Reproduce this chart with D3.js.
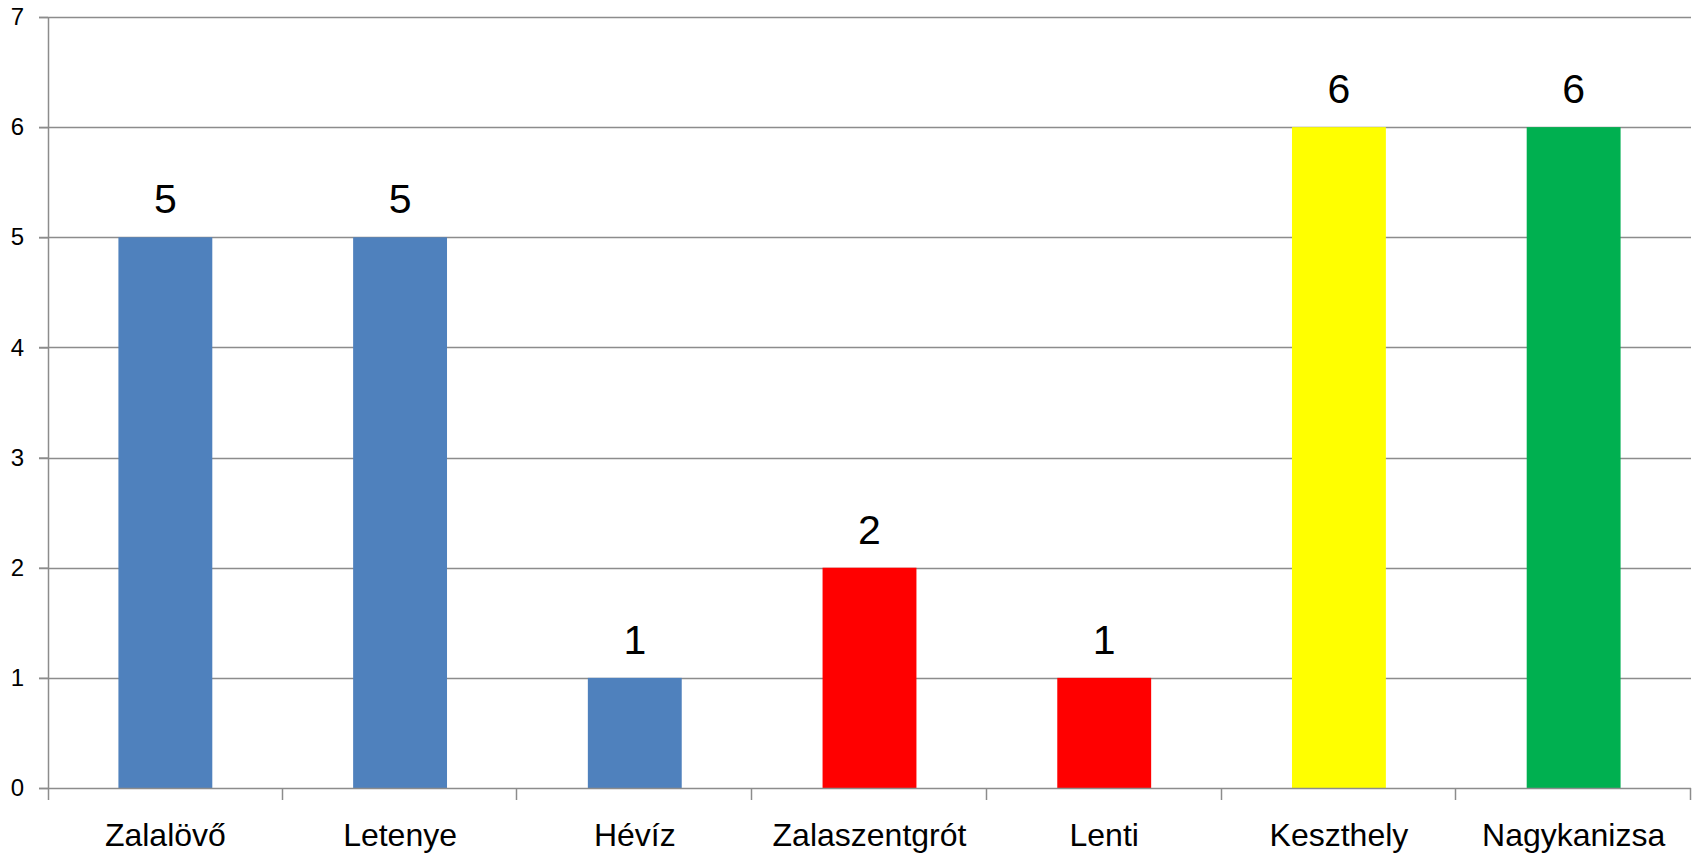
<!DOCTYPE html>
<html><head><meta charset="utf-8">
<script src="https://cdn.jsdelivr.net/npm/d3@7"></script>
<style>body{margin:0;background:#fff}svg{display:block}text{font-family:"Liberation Sans",Arial,sans-serif}</style>
</head><body>
<svg id="c" width="1696" height="855"></svg>
<script>
const categories = ["Zalalövő","Letenye","Hévíz","Zalaszentgrót","Lenti","Keszthely","Nagykanizsa"];
const values = [5,5,1,2,1,6,6];
const colors = ["#4F81BD","#4F81BD","#4F81BD","#FF0000","#FF0000","#FFFF00","#00B050"];
const yTicks = [0,1,2,3,4,5,6,7];

const W=1696,H=855,m={l:48,r:5,t:17,b:67};
const svg=d3.select("#c");
const x=d3.scaleBand().domain(categories).range([m.l,W-m.r]).paddingInner(0.6).paddingOuter(0.3);
const xb=d3.scaleBand().domain(categories).range([m.l,W-m.r]);
const y=d3.scaleLinear().domain([0,7]).range([H-m.b,m.t]);
const grid="#8c8c8c";

// gridlines
svg.append("g").selectAll("line").data(yTicks.filter(d=>d>0)).join("line")
 .attr("x1",m.l-9).attr("x2",W-m.r).attr("y1",d=>Math.round(y(d))+0.5).attr("y2",d=>Math.round(y(d))+0.5)
 .attr("stroke",grid).attr("stroke-width",1.5);

// bars
svg.append("g").selectAll("rect").data(values).join("rect")
 .attr("x",(d,i)=>x(categories[i])).attr("width",x.bandwidth())
 .attr("y",d=>y(d)).attr("height",d=>y(0)-y(d)).attr("fill",(d,i)=>colors[i]);

// y axis
const ya=svg.append("g").attr("transform",`translate(${m.l},0)`)
 .call(d3.axisLeft(y).tickValues(yTicks).tickSize(9).tickPadding(15).tickFormat(d3.format("d")));
ya.select(".domain").remove();
ya.selectAll(".tick line").attr("stroke",grid).attr("stroke-width",1.5);
ya.selectAll(".tick text").attr("font-size",24).attr("fill","#000").attr("font-family","Liberation Sans, Arial, sans-serif");
svg.append("line").attr("x1",m.l+0.5).attr("x2",m.l+0.5).attr("y1",m.t).attr("y2",H-m.b+12).attr("stroke",grid).attr("stroke-width",1.5);

// x axis line and ticks at boundaries
svg.append("line").attr("x1",m.l-9).attr("x2",W-m.r).attr("y1",y(0)+0.5).attr("y2",y(0)+0.5).attr("stroke",grid).attr("stroke-width",1.5);
const bounds=categories.map(c=>xb(c)+xb.bandwidth());
svg.append("g").selectAll("line").data(bounds).join("line")
 .attr("x1",d=>Math.round(d)-0.5).attr("x2",d=>Math.round(d)-0.5).attr("y1",y(0)).attr("y2",y(0)+12)
 .attr("stroke",grid).attr("stroke-width",1.5);

// category labels
svg.append("g").selectAll("text").data(categories).join("text")
 .attr("x",d=>xb(d)+xb.bandwidth()/2).attr("y",H-9).attr("text-anchor","middle")
 .attr("font-size",32).attr("fill","#000").text(d=>d);

// value labels
svg.append("g").selectAll("text").data(values).join("text")
 .attr("x",(d,i)=>x(categories[i])+x.bandwidth()/2).attr("y",d=>y(d)-24).attr("text-anchor","middle")
 .attr("font-size",41).attr("fill","#000").text(d=>d);
</script>
</body></html>
